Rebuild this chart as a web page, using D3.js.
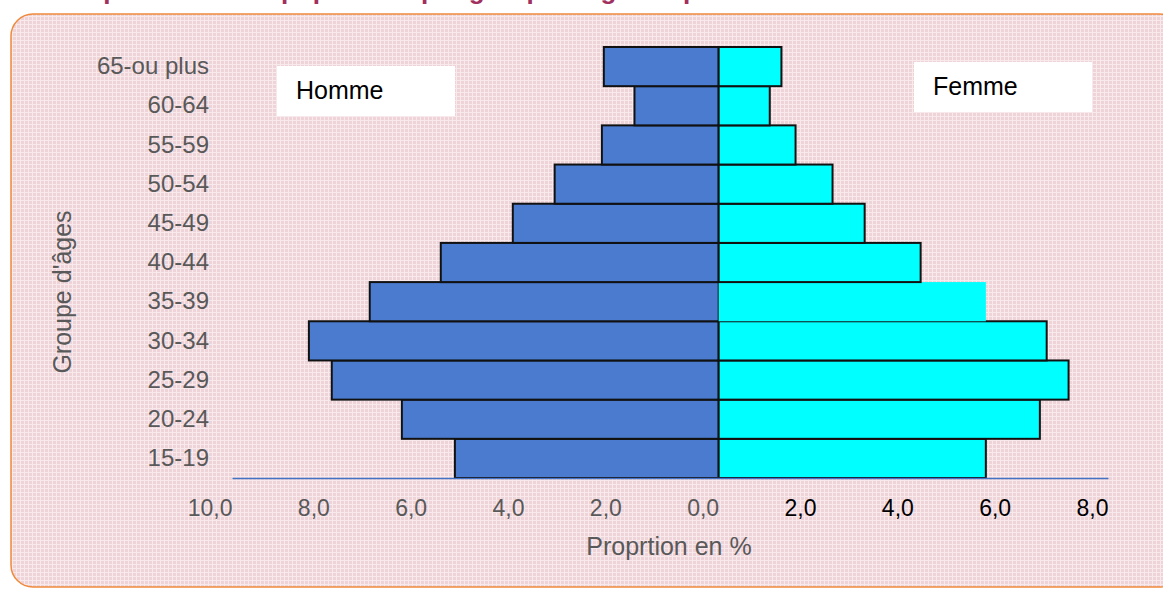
<!DOCTYPE html>
<html>
<head>
<meta charset="utf-8">
<script src="https://cdn.jsdelivr.net/npm/d3@7"></script>
<style>
  body { margin: 0; background: #fff; }
  svg text { font-family: "Liberation Sans", Arial, sans-serif; }
</style>
</head>
<body>
<div id="chart"></div>
<script>
const width = 1163;
const height = 590;

const ageGroups = ["15-19", "20-24", "25-29", "30-34", "35-39", "40-44",
  "45-49", "50-54", "55-59", "60-64", "65-ou plus"];
const homme = [5.42, 6.51, 7.95, 8.42, 7.17, 5.71, 4.23, 3.37, 2.4, 1.73, 2.36];
const femme = [5.49, 6.6, 7.19, 6.74, 5.49, 4.15, 3.0, 2.34, 1.58, 1.05, 1.29];
const tickValues = [-10, -8, -6, -4, -2, 0, 2, 4, 6, 8];

const svg = d3
  .select("#chart")
  .append("svg")
  .attr("width", width)
  .attr("height", height);

// pink grid background pattern
const defs = svg.append("defs");
const pat = defs
  .append("pattern")
  .attr("id", "grid")
  .attr("width", 4)
  .attr("height", 4)
  .attr("patternUnits", "userSpaceOnUse");
pat.append("rect").attr("width", 4).attr("height", 4).attr("fill", "#eed3d9");
pat.append("rect").attr("width", 4).attr("height", 1).attr("fill", "#f7e9ec");
pat.append("rect").attr("width", 1).attr("height", 4).attr("fill", "#f7e9ec");

// title, cut off by the top of the picture as in the original
svg
  .append("text")
  .attr("x", 70)
  .attr("y", -1)
  .attr("fill", "#a0305e")
  .attr("font-size", 26)
  .attr("font-weight", "bold")
  .text("Répartition de la population par groupe d'âges et par sexe");

svg
  .append("rect")
  .attr("x", 11)
  .attr("y", 14)
  .attr("width", 1170)
  .attr("height", 573)
  .attr("rx", 22)
  .attr("fill", "url(#grid)")
  .attr("stroke", "#f08a3c")
  .attr("stroke-width", 1.5);

const x = d3.scaleLinear().domain([-10, 8]).range([232, 1108]);
const y = d3
  .scaleBand()
  .domain(ageGroups.slice().reverse())
  .range([47, 478])
  .padding(0);

const rows = ageGroups.map((g, i) => ({ g, h: homme[i], f: femme[i] }));

svg
  .append("g")
  .selectAll("rect")
  .data(rows)
  .join("rect")
  .attr("x", (d) => x(-d.h))
  .attr("y", (d) => y(d.g))
  .attr("width", (d) => x(0) - x(-d.h))
  .attr("height", y.bandwidth())
  .attr("fill", "#4a7bcf")
  .attr("stroke", "#111")
  .attr("stroke-width", 2);

svg
  .append("g")
  .selectAll("rect")
  .data(rows)
  .join("rect")
  .attr("x", x(0))
  .attr("y", (d) => y(d.g))
  .attr("width", (d) => x(d.f) - x(0))
  .attr("height", y.bandwidth())
  .attr("fill", "#00ffff")
  .attr("stroke", (d) => (d.g === "35-39" ? "none" : "#111"))
  .attr("stroke-width", 2);

// x axis
const xAxis = svg
  .append("g")
  .attr("transform", `translate(0,${y.range()[1]})`)
  .call(
    d3
      .axisBottom(x)
      .tickValues(tickValues)
      .tickSize(0)
      .tickPadding(22)
      .tickFormat((d) => d3.format(".1f")(Math.abs(d)).replace(".", ","))
  );
xAxis.select(".domain").attr("stroke", "#4472c4").attr("stroke-width", 1.5);
xAxis
  .selectAll("text")
  .attr("font-size", 23)
  .attr("text-anchor", "end")
  .attr("fill", (d) => (d > 0 ? "#000" : "#595959"));

// y axis labels
const yAxis = svg
  .append("g")
  .attr("transform", "translate(209,0)")
  .call(d3.axisLeft(y).tickSize(0).tickPadding(0));
yAxis.select(".domain").remove();
yAxis.selectAll("text").attr("font-size", 24).attr("fill", "#595959");

svg
  .append("text")
  .attr("transform", "translate(71,292) rotate(-90)")
  .attr("text-anchor", "middle")
  .attr("font-size", 25)
  .attr("fill", "#595959")
  .text("Groupe d'âges");

svg
  .append("text")
  .attr("x", 669)
  .attr("y", 555)
  .attr("text-anchor", "middle")
  .attr("font-size", 25)
  .attr("fill", "#595959")
  .text("Proprtion en %");

// legend boxes
const labels = [
  { t: "Homme", bx: 277, by: 66 },
  { t: "Femme", bx: 914, by: 62 },
];
const lg = svg.append("g").selectAll("g").data(labels).join("g");
lg.append("rect")
  .attr("x", (d) => d.bx)
  .attr("y", (d) => d.by)
  .attr("width", 178)
  .attr("height", 50)
  .attr("fill", "#fff");
lg.append("text")
  .attr("x", (d) => d.bx + 19)
  .attr("y", (d) => d.by + 33)
  .attr("font-size", 25)
  .attr("fill", "#000")
  .text((d) => d.t);
</script>
</body>
</html>
